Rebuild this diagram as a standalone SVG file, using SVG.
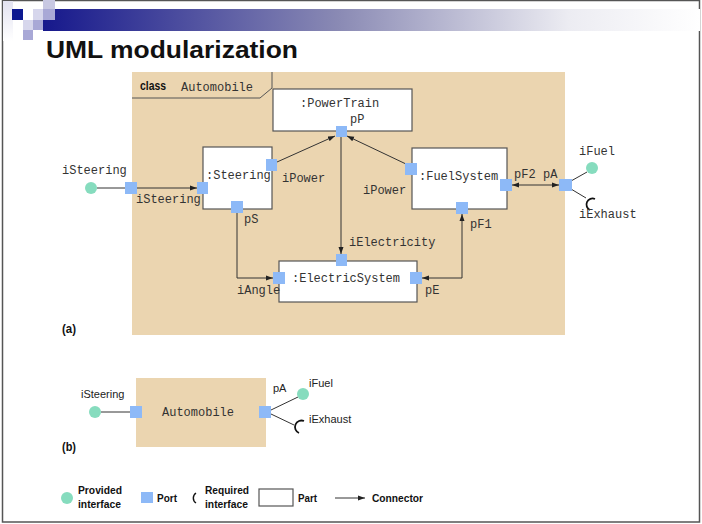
<svg xmlns="http://www.w3.org/2000/svg" width="702" height="524" viewBox="0 0 702 524">
  <defs>
    <linearGradient id="barGrad" x1="0" y1="0" x2="1" y2="0">
      <stop offset="0" stop-color="#16188c"/>
      <stop offset="0.45" stop-color="#8a8ab4"/>
      <stop offset="0.8" stop-color="#ececf2"/>
      <stop offset="1" stop-color="#ffffff"/>
    </linearGradient>
    <linearGradient id="stripGrad" x1="0" y1="0" x2="0" y2="1">
      <stop offset="0" stop-color="#e2e2f0"/>
      <stop offset="1" stop-color="#ffffff"/>
    </linearGradient>
    <marker id="arr" markerWidth="8" markerHeight="6" refX="7" refY="3" orient="auto-start-reverse" markerUnits="userSpaceOnUse">
      <path d="M0,0.5 L7,3 L0,5.5 z" fill="#222"/>
    </marker>
    <style>
      .mono { font-family: "Liberation Mono", "DejaVu Sans Mono", monospace; font-size: 12px; fill: #333; }
      .sans { font-family: "Liberation Sans", Arial, sans-serif; font-size: 11px; fill: #222; }
      .bold { font-family: "Liberation Sans", Arial, sans-serif; font-weight: bold; fill: #111; }
      .leg { font-family: "Liberation Sans", Arial, sans-serif; font-weight: bold; font-size: 11px; fill: #111; }
      .part { fill: #ffffff; stroke: #555; stroke-width: 1.2; }
      .port { fill: #8db9f7; }
      .prov { fill: #86dcbe; }
      .req { fill: none; stroke: #111; stroke-width: 1.8; }
      .wire { fill: none; stroke: #333; stroke-width: 1; }
      .tan { fill: #ebd5b0; }
    </style>
  </defs>

  <!-- page frame -->
  <rect x="0" y="0" width="702" height="524" fill="#ffffff"/>
  <rect x="2.5" y="0.5" width="697" height="521.5" fill="none" stroke="#555" stroke-width="1.5"/>

  <!-- header decoration -->
  <g id="header">
    <rect x="3" y="1" width="10" height="40" fill="url(#stripGrad)"/>
    <rect x="43" y="9" width="657" height="22" fill="url(#barGrad)"/>
    <rect x="43" y="0" width="12" height="9" fill="#c8c8e2"/>
    <rect x="12" y="9" width="11" height="11" fill="#0c1890"/>
    <rect x="33" y="9" width="10" height="11" fill="#d6d6ec"/>
    <rect x="43" y="9" width="12" height="11" fill="#a8a8d6"/>
    <rect x="23" y="20" width="10" height="10" fill="#d6d6ec"/>
    <rect x="33" y="20" width="10" height="10" fill="#a8a8d6"/>
    <rect x="23" y="30" width="10" height="10" fill="#a8a8d6"/>
  </g>

  <text class="bold" x="46" y="58" font-size="23" textLength="252" lengthAdjust="spacingAndGlyphs">UML modularization</text>

  <!-- (a) internal structure -->
  <rect id="automobile-a" class="tan" x="132" y="72" width="433" height="263"/>
  <path d="M132,98 H260 L272,88 V72" fill="none" stroke="#555" stroke-width="1"/>
  <text class="bold" x="140" y="90" font-size="12" textLength="26" lengthAdjust="spacingAndGlyphs">class</text>
  <text class="mono" x="181" y="91" font-size="11.5">Automobile</text>

  <g id="connectors">
    <path class="wire" d="M97,188 H125"/>
    <path class="wire" d="M137,188 H197" marker-end="url(#arr)"/>
    <path class="wire" d="M277,162 L335,136" marker-end="url(#arr)"/>
    <path class="wire" d="M406,164 L347,136" marker-end="url(#arr)"/>
    <path class="wire" d="M341,137 V254" marker-end="url(#arr)"/>
    <path class="wire" d="M237,213 V278 H273" marker-end="url(#arr)"/>
    <path class="wire" d="M462,214 V278 H422" marker-start="url(#arr)" marker-end="url(#arr)"/>
    <path class="wire" d="M512,185 H559" marker-start="url(#arr)" marker-end="url(#arr)"/>
    <path class="wire" d="M571,181 L587,172"/>
    <path class="wire" d="M571,189 L586,198"/>
    <path class="wire" d="M101,412 H130"/>
    <path class="wire" d="M271,410 L298,397"/>
    <path class="wire" d="M271,414 L294,425"/>
  </g>

  <g id="powertrain">
    <rect class="part" x="273" y="89" width="139" height="42"/>
    <text class="mono" x="300" y="107">:PowerTrain</text>
    <text class="mono" x="350" y="123">pP</text>
    <rect class="port" x="336" y="126" width="11" height="11"/>
  </g>

  <g id="steering">
    <rect class="part" x="203" y="147" width="69" height="62"/>
    <text class="mono" x="206" y="179">:Steering</text>
    <rect class="port" x="197" y="182" width="11" height="12"/>
    <rect class="port" x="266" y="159" width="11" height="12"/>
    <rect class="port" x="231" y="201" width="12" height="12"/>
    <text class="mono" x="282" y="182">iPower</text>
    <text class="mono" x="136" y="203">iSteering</text>
    <text class="mono" x="244" y="223">pS</text>
  </g>

  <g id="fuelsystem">
    <rect class="part" x="412" y="148" width="95" height="61"/>
    <text class="mono" x="419" y="180">:FuelSystem</text>
    <rect class="port" x="405" y="163" width="12" height="12"/>
    <rect class="port" x="500" y="179" width="12" height="12"/>
    <rect class="port" x="456" y="202" width="12" height="12"/>
    <text class="mono" x="363" y="194">iPower</text>
    <text class="mono" x="514" y="178">pF2</text>
    <text class="mono" x="470" y="228">pF1</text>
  </g>

  <g id="electricsystem">
    <rect class="part" x="279" y="261" width="138" height="41"/>
    <text class="mono" x="292" y="282">:ElectricSystem</text>
    <rect class="port" x="273" y="272" width="12" height="12"/>
    <rect class="port" x="336" y="254" width="11" height="12"/>
    <rect class="port" x="410" y="272" width="12" height="12"/>
    <text class="mono" x="349" y="246">iElectricity</text>
    <text class="mono" x="237" y="294">iAngle</text>
    <text class="mono" x="425" y="294">pE</text>
  </g>

  <g id="boundary-a">
    <circle class="prov" cx="91" cy="188" r="6"/>
    <rect class="port" x="125" y="182" width="12" height="12"/>
    <text class="mono" x="62" y="174">iSteering</text>
    <rect class="port" x="559" y="179" width="13" height="12"/>
    <text class="mono" x="543" y="178">pA</text>
    <circle class="prov" cx="592" cy="168" r="6"/>
    <path class="req" d="M595,199 A6,6 0 0 0 590,210"/>
    <text class="mono" x="579" y="155">iFuel</text>
    <text class="mono" x="579" y="218">iExhaust</text>
  </g>

  <text class="bold" x="62" y="333" font-size="13" textLength="14" lengthAdjust="spacingAndGlyphs">(a)</text>

  <!-- (b) black-box view -->
  <g id="automobile-b">
    <rect class="tan" x="136" y="378" width="130" height="69"/>
    <text class="mono" x="162" y="416" font-size="12.5">Automobile</text>
    <circle class="prov" cx="95" cy="412" r="6"/>
    <rect class="port" x="130" y="406" width="12" height="12"/>
    <rect class="port" x="259" y="406" width="12" height="12"/>
    <circle class="prov" cx="303" cy="394" r="6"/>
    <path class="req" d="M304,421 A6,6 0 0 0 299,433"/>
    <text class="sans" x="81" y="398">iSteering</text>
    <text class="sans" x="273" y="392">pA</text>
    <text class="sans" x="309" y="387">iFuel</text>
    <text class="sans" x="309" y="423">iExhaust</text>
  </g>

  <text class="bold" x="62" y="451" font-size="13" textLength="14" lengthAdjust="spacingAndGlyphs">(b)</text>

  <!-- legend -->
  <g id="legend">
    <circle class="prov" cx="67" cy="498" r="6"/>
    <text class="leg" x="78" y="494" textLength="44" lengthAdjust="spacingAndGlyphs">Provided</text>
    <text class="leg" x="78" y="507.5" textLength="43" lengthAdjust="spacingAndGlyphs">interface</text>
    <rect class="port" x="141" y="492" width="12" height="11"/>
    <text class="leg" x="157" y="502" textLength="20" lengthAdjust="spacingAndGlyphs">Port</text>
    <path d="M196,493 A6,6 0 0 0 196,503" fill="none" stroke="#111" stroke-width="1.4"/>
    <text class="leg" x="205" y="494" textLength="44" lengthAdjust="spacingAndGlyphs">Required</text>
    <text class="leg" x="205" y="507.5" textLength="43" lengthAdjust="spacingAndGlyphs">interface</text>
    <rect class="part" x="259" y="489" width="34" height="17"/>
    <text class="leg" x="298" y="502" textLength="19" lengthAdjust="spacingAndGlyphs">Part</text>
    <path class="wire" d="M335,498 H365" marker-end="url(#arr)"/>
    <text class="leg" x="372" y="502" textLength="51" lengthAdjust="spacingAndGlyphs">Connector</text>
  </g>
</svg>
